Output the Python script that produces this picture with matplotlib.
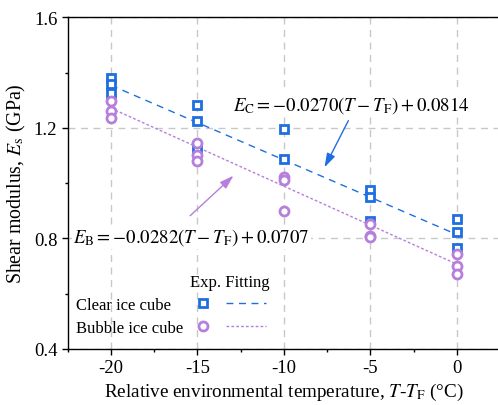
import numpy as np
import matplotlib
matplotlib.use("Agg")
import matplotlib.pyplot as plt
from matplotlib.lines import Line2D
from matplotlib.ticker import MultipleLocator

plt.rcParams['font.family'] = ['Liberation Serif', 'DejaVu Serif']
plt.rcParams['mathtext.fontset'] = 'stix'
plt.rcParams['axes.unicode_minus'] = False

# measured shear modulus (GPa) at each relative temperature
T_clear = [-20, -20, -20, -15, -15, -15, -10, -10, -5, -5, -5, 0, 0, 0]
E_clear = [1.379, 1.359, 1.325, 1.284, 1.224, 1.124, 1.196, 1.087,
           0.976, 0.949, 0.864, 0.870, 0.824, 0.764]
T_bubble = [-20, -20, -20, -15, -15, -15, -10, -10, -10, -5, -5, -5, 0, 0, 0]
E_bubble = [1.296, 1.262, 1.236, 1.145, 1.103, 1.081, 1.021, 1.013, 0.898,
            0.852, 0.810, 0.805, 0.743, 0.699, 0.671]

# linear fits
slope_c, icpt_c = -0.0270, 0.814
slope_b, icpt_b = -0.0282, 0.707
T_fit = [-20, 0]

blue = '#1f6fe0'
purple = '#b77fdc'

fig = plt.figure(figsize=(4.98, 4.06), dpi=100)
ax = fig.add_axes([0.136, 0.138, 0.868, 0.817])

ax.grid(True, which='major', color='#c8c8c8', linestyle=(0, (5, 4)), linewidth=1.0)
ax.set_axisbelow(True)

ax.plot(T_clear, E_clear, 's', ms=5.5, mfc='white', mec=blue, mew=2, zorder=3)
ax.plot(T_bubble, E_bubble, 'o', ms=6.5, mfc='white', mec=purple, mew=2, zorder=3)
fit_c = [slope_c * t + icpt_c for t in T_fit]
fit_b = [slope_b * t + icpt_b for t in T_fit]
ax.plot(T_fit, fit_c, color=blue, lw=1.0, linestyle=(0, (5, 4)), zorder=2)
ax.plot(T_fit, fit_b, color=purple, lw=1.0, linestyle=(0, (2, 1.5)), zorder=2)

box = dict(facecolor='white', edgecolor='none', pad=1)
ax.text(-6.1, 1.286, r'$E_\mathrm{C}=-0.0270\left(T-T_\mathrm{F}\right)+0.0814$',
        fontsize=13.6, ha='center', va='center', bbox=box, zorder=4)
ax.text(-15.35, 0.805, r'$E_\mathrm{B}=-0.0282\left(T-T_\mathrm{F}\right)+0.0707$',
        fontsize=13.6, ha='center', va='center', bbox=box, zorder=4)
arrow_style = '-|>,head_length=0.7,head_width=0.22'
ax.annotate('', xy=(-7.65, 1.057), xytext=(-6.27, 1.226),
            arrowprops=dict(arrowstyle=arrow_style, color=blue, lw=1.0,
                            mutation_scale=12, shrinkA=0, shrinkB=0), zorder=4)
ax.annotate('', xy=(-12.91, 1.027), xytext=(-15.42, 0.882),
            arrowprops=dict(arrowstyle=arrow_style, color=purple, lw=1.0,
                            mutation_scale=12, shrinkA=0, shrinkB=0), zorder=4)

ax.set_xlim(-22.5, 2.5)
ax.set_ylim(0.4, 1.6)
ax.xaxis.set_major_locator(MultipleLocator(5))
ax.xaxis.set_minor_locator(MultipleLocator(2.5))
ax.yaxis.set_major_locator(MultipleLocator(0.4))
ax.yaxis.set_minor_locator(MultipleLocator(0.2))
ax.tick_params(which='major', direction='out', length=4, width=1, labelsize=13.5)
ax.tick_params(which='minor', direction='out', length=2.5, width=1)
ax.set_yticks([0.4, 0.8, 1.2, 1.6])
ax.set_yticklabels(['0.4', '0.8', '1.2', '1.6'])
for s in ax.spines.values():
    s.set_linewidth(1.0)

ax.set_xlabel(r'Relative environmental temperature, $T$-$T_\mathrm{F}$ (°C)', fontsize=13.8, labelpad=3)
ax.set_ylabel(r'Shear modulus, $E_\mathrm{s}$ (GPa)', fontsize=14.3, labelpad=4)

# legend: label column, marker column, fit-line column
blank = Line2D([], [], ls='none')
handles = [
    blank, blank,
    Line2D([], [], marker='s', ls='none', ms=5.5, mfc='white', mec=blue, mew=2),
    Line2D([], [], marker='o', ls='none', ms=6.5, mfc='white', mec=purple, mew=2),
    Line2D([], [], color=blue, lw=1.0, linestyle=(0, (5, 4))),
    Line2D([], [], color=purple, lw=1.0, linestyle=(0, (2, 1.5))),
]
labels = ['Clear ice cube', 'Bubble ice cube', '', '', '', '']
leg = ax.legend(handles, labels, ncol=3, frameon=False,
                title='Exp. Fitting', alignment='right', fontsize=12, title_fontsize=12,
                loc='lower left', bbox_to_anchor=(-0.109, 0.005),
                handlelength=2.4, handletextpad=0.2, columnspacing=0.0,
                labelspacing=0.4, borderpad=0.2)

fig.savefig('out.png', dpi=100)
